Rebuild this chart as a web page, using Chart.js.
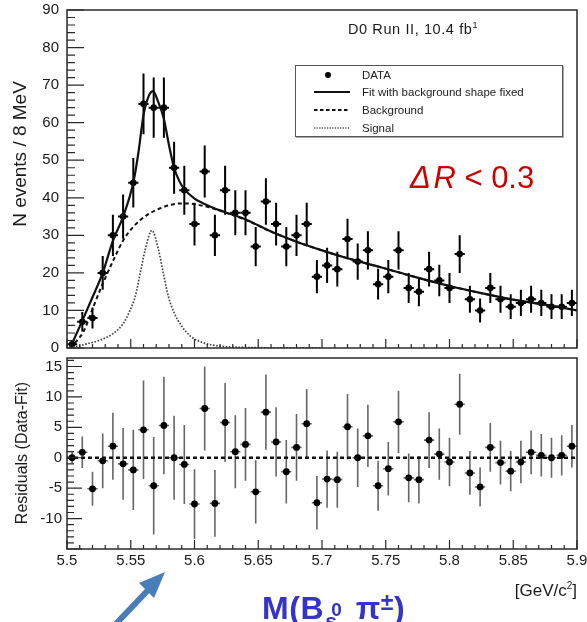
<!DOCTYPE html>
<html>
<head>
<meta charset="utf-8">
<script src="https://cdn.jsdelivr.net/npm/chart.js@4.4.1/dist/chart.umd.min.js"></script>
<style>
  html, body { margin: 0; padding: 0; background: #fff; }
  body { width: 587px; height: 622px; overflow: hidden; position: relative; font-family: "Liberation Sans", Arial, sans-serif; color: #1a1a1a; }
  canvas { position: absolute; left: 0; }
  #topChart { top: 0; }
  #botChart { top: 350px; }
  .txt { position: absolute; white-space: nowrap; line-height: 1; }
  #ytitle1 { font-size: 19px; left: 19px; top: 154px; transform: translate(-50%, -50%) rotate(-90deg); }
  #ytitle2 { font-size: 16px; left: 22px; top: 453px; transform: translate(-50%, -50%) rotate(-90deg); }
  #runlabel { font-size: 14.5px; letter-spacing: 0.6px; left: 348px; top: 22px; }
  #runlabel sup { font-size: 9px; vertical-align: 0; position: relative; top: -6px; }
  #cut { font-size: 31px; left: 410px; top: 162px; color: #cc0000; }
  #cut i { font-style: italic; }
  #xtitle { font-size: 17px; right: 10px; top: 582px; }
  #xtitle sup { font-size: 10px; position: relative; top: -7px; vertical-align: 0; }
  #mass { font-size: 32px; letter-spacing: 0.6px; font-weight: bold; left: 262px; top: 592px; color: #3434c8; }
  #mass .ss { display: inline-block; position: relative; width: 22px; height: 1em; vertical-align: top; }
  #mass .ss .up { position: absolute; left: 7px; top: 8px; font-size: 19px; }
  #mass .ss .dn { position: absolute; left: 1px; top: 18px; font-size: 21px; }
  #mass .pm { font-size: 23px; position: relative; top: -9px; }
  #legend { position: absolute; left: 295px; top: 65px; width: 268px; height: 72px; box-sizing: border-box; border: 1px solid #555; box-shadow: 1px 1px 0 #aaa; background: #fff; }
  #legend .row { position: absolute; left: 0; height: 14px; width: 100%; }
  #legend svg { position: absolute; left: 18px; top: 2px; }
  #legend span { position: absolute; left: 66px; top: 0; font-size: 11.5px; line-height: 14px; color: #222; }
  #arrow { position: absolute; left: 0; top: 0; }
</style>
</head>
<body>
<canvas id="topChart" width="587" height="358"></canvas>
<canvas id="botChart" width="587" height="272"></canvas>

<div class="txt" id="ytitle1">N events / 8 MeV</div>
<div class="txt" id="ytitle2">Residuals (Data-Fit)</div>
<div class="txt" id="runlabel">D0 Run II, 10.4 fb<sup>1</sup></div>
<div class="txt" id="cut"><i>Δ</i>&#8202;<i>R</i> &lt; 0.3</div>
<div class="txt" id="xtitle">[GeV/c<sup>2</sup>]</div>
<div class="txt" id="mass">M(B<span class="ss"><span class="up">0</span><span class="dn">s</span></span>&nbsp;π<span class="pm">±</span>)</div>

<div id="legend">
  <div class="row" style="top:2px"><svg width="38" height="10"><circle cx="14" cy="5" r="3" fill="#000"/></svg><span>DATA</span></div>
  <div class="row" style="top:19px"><svg width="38" height="10"><line x1="0" y1="5" x2="36" y2="5" stroke="#111" stroke-width="2"/></svg><span>Fit with background shape fixed</span></div>
  <div class="row" style="top:37px"><svg width="38" height="10"><line x1="0" y1="5" x2="36" y2="5" stroke="#111" stroke-width="1.8" stroke-dasharray="3.5,2.5"/></svg><span>Background</span></div>
  <div class="row" style="top:55px"><svg width="38" height="10"><line x1="0" y1="5" x2="36" y2="5" stroke="#555" stroke-width="1.3" stroke-dasharray="1.3,1.3"/></svg><span>Signal</span></div>
</div>

<svg id="arrow" width="587" height="622">
  <line x1="112" y1="628" x2="151" y2="587" stroke="#4a7ebb" stroke-width="6"/>
  <polygon points="165,572 154,598 139,583" fill="#4a7ebb"/>
</svg>

<script>
// ---------------- data ----------------
const massRange = [5.5, 5.9];
const binHalfWidth = 0.004;
const binCenters = [5.504,5.512,5.520,5.528,5.536,5.544,5.552,5.560,5.568,5.576,
                    5.584,5.592,5.600,5.608,5.616,5.624,5.632,5.640,5.648,5.656,
                    5.664,5.672,5.680,5.688,5.696,5.704,5.712,5.720,5.728,5.736,
                    5.744,5.752,5.760,5.768,5.776,5.784,5.792,5.800,5.808,5.816,
                    5.824,5.832,5.840,5.848,5.856,5.864,5.872,5.880,5.888,5.896];
const counts = [1,7,8,20,30,35,44,65,64,64,
                48,42,33,47,30,42,36,36,27,39,
                33,27,30,33,19,22,21,29,23,26,
                17,19,26,16,15,21,18,16,25,13,
                10,16,13,11,12,13,12,11,11,12];
const countErrors = [1.0,2.6,2.8,4.5,5.5,5.9,6.6,8.1,8.0,8.0,
                     6.9,6.5,5.7,6.9,5.5,6.5,6.0,6.0,5.2,6.2,
                     5.7,5.2,5.5,5.7,4.4,4.7,4.6,5.4,4.8,5.1,
                     4.1,4.4,5.1,4.0,3.9,4.6,4.2,4.0,5.0,3.6,
                     3.2,4.0,3.6,3.3,3.5,3.6,3.5,3.3,3.3,3.5];
const residuals = [0,0.9,-5.1,-0.5,1.9,-1.0,-2.0,4.6,-4.6,5.3,
                   0,-1.1,-7.6,8.1,-7.5,5.8,1.0,2.2,-5.6,7.5,
                   2.6,-2.3,1.7,5.6,-7.4,-3.5,-3.6,5.1,0,3.6,
                   -4.6,-1.8,5.9,-3.3,-3.6,2.9,0.6,-0.7,8.8,-2.5,
                   -4.8,1.7,-0.8,-2.2,-0.7,0.9,0.4,0,0.4,1.9];

const fitX = [5.5024,5.511,5.520,5.528,5.536,5.544,5.552,5.556,5.560,5.564,5.5675,5.571,5.576,5.580,5.584,5.588,5.592,5.600,5.607,5.615,5.623,5.641,5.660,5.680,5.700,5.720,5.746,5.772,5.800,5.825,5.851,5.877,5.900];
const fitY = [0,6.5,13.5,20,28.5,35,44,52,62,67,68.4,66,61,54,48,44.5,42.3,39.8,38.5,37.3,36.3,34.1,31,28.3,26,23.9,21.5,19,16.5,14.6,12.8,11.4,10.0];

const bkgX = [5.5024,5.5128,5.5207,5.5285,5.5364,5.5443,5.5521,5.5627,5.5731,5.5836,5.593,5.600,5.610,5.623,5.641,5.660,5.680,5.700,5.720,5.746,5.772,5.800,5.825,5.851,5.877,5.900];
const bkgY = [0,4.3,11,17.5,23.4,28.8,32.3,35.4,37.2,38.3,38.5,38.3,37.6,36.2,34.0,31,28.3,26,23.9,21.5,19,16.5,14.6,12.8,11.4,10.0];

const sigX = [5.502,5.510,5.5155,5.526,5.5364,5.5443,5.5495,5.5535,5.5574,5.5613,5.5666,5.5718,5.5755,5.5795,5.584,5.590,5.597,5.606,5.620,5.640,5.670,5.700];
const sigY = [0.1,0.6,1.1,2.1,3.9,6.6,10.1,13.7,19.9,26.1,31.3,26.1,20,13.7,9.4,5.8,3.1,1.5,0.5,0.15,0.05,0];

const massTicks = [5.5,5.55,5.6,5.65,5.7,5.75,5.8,5.85,5.9];
const massTickLabels = ['5.5','5.55','5.6','5.65','5.7','5.75','5.8','5.85','5.9'];
const countTicks = [0,10,20,30,40,50,60,70,80,90];
const residualTicks = [-15,-10,-5,0,5,10,15];
const residualTickLabels = ['','-10','-5','0','5','10','15'];

// ---------------- helpers ----------------
const pts = (xs, ys) => xs.map((x, i) => ({ x, y: ys[i] }));
const FONT = "'Liberation Sans', Arial, sans-serif";
Chart.defaults.font.family = FONT;

const rootStyle = {
  id: 'rootStyle',
  beforeDatasetsDraw(chart, args, o) {
    const { ctx, chartArea: a, scales: { x, y } } = chart;
    ctx.save();
    ctx.beginPath();
    ctx.rect(a.left, a.top, a.right - a.left, a.bottom - a.top);
    ctx.clip();
    chart.data.datasets.forEach(ds => {
      if (!ds.errors) return;
      ctx.strokeStyle = o.errColor;
      ctx.lineWidth = o.errWidth;
      ds.data.forEach((p, i) => {
        const e = ds.errors[i];
        const px = x.getPixelForValue(p.x);
        const py = y.getPixelForValue(p.y);
        ctx.beginPath();
        ctx.moveTo(px, y.getPixelForValue(p.y - e));
        ctx.lineTo(px, y.getPixelForValue(p.y + e));
        ctx.moveTo(x.getPixelForValue(p.x - binHalfWidth), py);
        ctx.lineTo(x.getPixelForValue(p.x + binHalfWidth), py);
        ctx.stroke();
      });
    });
    ctx.restore();
  },
  afterDraw(chart, args, o) {
    const { ctx, chartArea: a, scales: { x, y } } = chart;
    ctx.save();
    ctx.strokeStyle = '#2a2a2a';
    ctx.lineWidth = 1.2;
    ctx.beginPath();
    for (let k = 0; k <= 40; k++) {
      const px = x.getPixelForValue(massRange[0] + k * 0.01);
      const len = (k % 5 === 0) ? o.xMajorLen : o.xMinorLen;
      ctx.moveTo(px, a.bottom);
      ctx.lineTo(px, a.bottom - len);
    }
    const k0 = Math.ceil(y.min / o.yMinorStep), k1 = Math.floor(y.max / o.yMinorStep);
    const ratio = Math.round(o.yMajorStep / o.yMinorStep);
    for (let k = k0; k <= k1; k++) {
      const py = y.getPixelForValue(k * o.yMinorStep);
      const len = (k % ratio === 0) ? o.yMajorLen : o.yMinorLen;
      ctx.moveTo(a.left, py);
      ctx.lineTo(a.left + len, py);
    }
    ctx.stroke();
    ctx.lineWidth = 1.5;
    ctx.strokeRect(a.left, a.top, a.right - a.left, a.bottom - a.top);
    ctx.restore();
  }
};

const noPadY = s => { s.width = 67; s.paddingTop = 0; s.paddingBottom = 0; };

// ---------------- top panel ----------------
new Chart(document.getElementById('topChart'), {
  type: 'scatter',
  data: {
    datasets: [
      { label: 'Signal', type: 'line', data: pts(sigX, sigY), borderColor: '#444', borderWidth: 1.7,
        borderDash: [1.6, 1.6], pointRadius: 0, cubicInterpolationMode: 'monotone', fill: false },
      { label: 'Background', type: 'line', data: pts(bkgX, bkgY), borderColor: '#111', borderWidth: 2,
        borderDash: [4, 3], pointRadius: 0, cubicInterpolationMode: 'monotone', fill: false },
      { label: 'Fit with background shape fixed', type: 'line', data: pts(fitX, fitY), borderColor: '#111',
        borderWidth: 2.2, pointRadius: 0, cubicInterpolationMode: 'monotone', fill: false },
      { label: 'DATA', type: 'scatter', data: pts(binCenters, counts), errors: countErrors,
        pointRadius: 3.3, pointBackgroundColor: '#000', pointBorderWidth: 0 }
    ]
  },
  options: {
    responsive: false, animation: false, events: [],
    layout: { padding: { left: 0, right: 10, top: 10, bottom: 10 } },
    plugins: {
      legend: { display: false }, tooltip: { enabled: false },
      rootStyle: { errColor: '#000', errWidth: 2, xMajorLen: 9, xMinorLen: 4,
                   yMajorStep: 10, yMinorStep: 2, yMajorLen: 17, yMinorLen: 8 }
    },
    scales: {
      x: { type: 'linear', min: massRange[0], max: massRange[1], display: false },
      y: { min: 0, max: 90, afterFit: noPadY,
           afterBuildTicks: s => { s.ticks = countTicks.map(v => ({ value: v })); },
           grid: { display: false, drawTicks: false }, border: { display: false },
           ticks: { padding: 8, color: '#1a1a1a', font: { size: 15 } } }
    }
  },
  plugins: [rootStyle]
});

// ---------------- residual panel ----------------
new Chart(document.getElementById('botChart'), {
  type: 'scatter',
  data: {
    datasets: [
      { label: 'zero', type: 'line', data: pts(massRange, [0, 0]), borderColor: '#111', borderWidth: 2.6,
        borderDash: [4, 3], pointRadius: 0, fill: false },
      { label: 'Residuals', type: 'scatter', data: pts(binCenters, residuals), errors: countErrors,
        pointRadius: 3.4, pointBackgroundColor: '#000', pointBorderWidth: 0 }
    ]
  },
  options: {
    responsive: false, animation: false, events: [],
    layout: { padding: { left: 0, right: 10, top: 8, bottom: 0 } },
    plugins: {
      legend: { display: false }, tooltip: { enabled: false },
      rootStyle: { errColor: '#666', errWidth: 1.6, xMajorLen: 9, xMinorLen: 4,
                   yMajorStep: 5, yMinorStep: 1, yMajorLen: 15, yMinorLen: 7 }
    },
    scales: {
      x: { type: 'linear', min: massRange[0], max: massRange[1],
           afterBuildTicks: s => { s.ticks = massTicks.map(v => ({ value: v })); },
           afterFit: s => { s.height = 73; s.paddingLeft = 0; s.paddingRight = 0; },
           grid: { display: false, drawTicks: false }, border: { display: false },
           ticks: { padding: 3, autoSkip: false, maxRotation: 0, color: '#1a1a1a', font: { size: 15 },
                    callback: (v, i) => massTickLabels[i] } },
      y: { min: -15, max: 16.4, afterFit: noPadY,
           afterBuildTicks: s => { s.ticks = residualTicks.map(v => ({ value: v })); },
           grid: { display: false, drawTicks: false }, border: { display: false },
           ticks: { padding: 5, color: '#1a1a1a', font: { size: 15 },
                    callback: (v, i) => residualTickLabels[i] } }
    }
  },
  plugins: [rootStyle]
});
</script>
</body>
</html>
